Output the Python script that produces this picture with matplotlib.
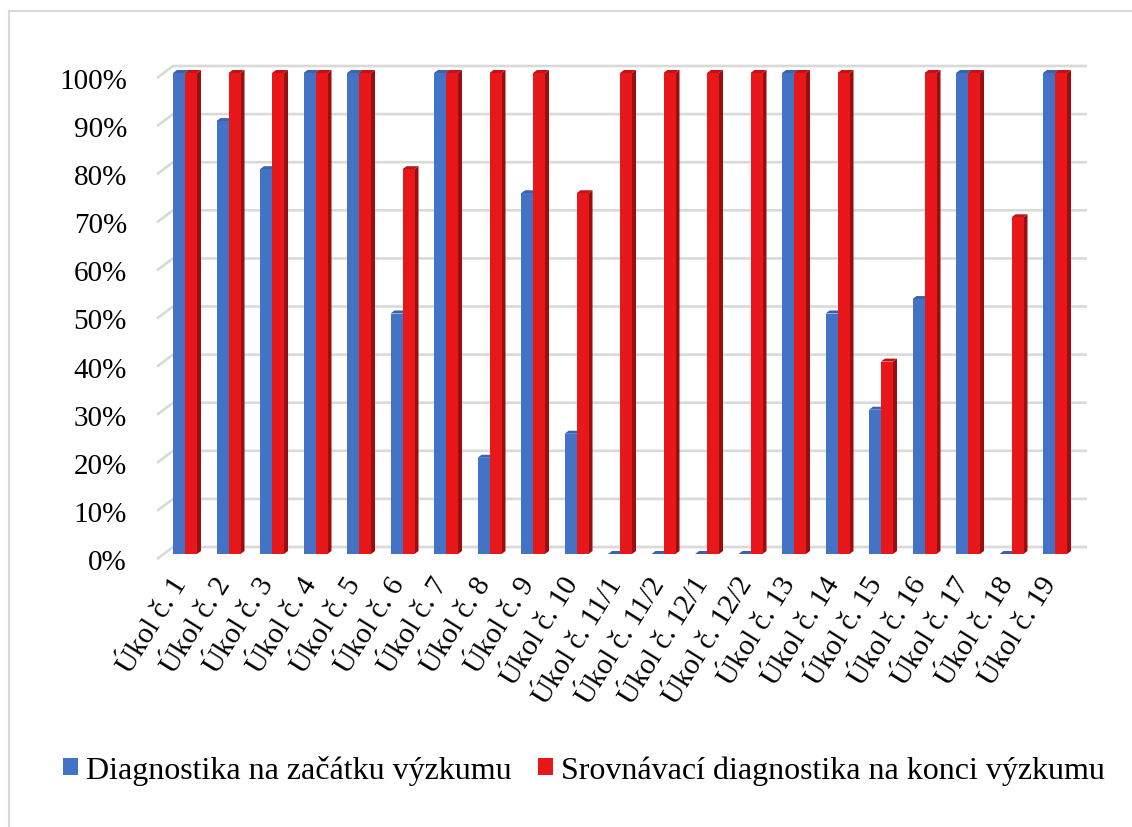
import matplotlib.pyplot as plt
from matplotlib.patches import Polygon, Patch
from matplotlib.lines import Line2D

plt.rcParams['font.family'] = 'serif'
plt.rcParams['font.serif'] = ['Liberation Serif', 'Times New Roman', 'DejaVu Serif']

# úkoly a výsledky diagnostik (v %)
ukoly = ['Úkol č. 1', 'Úkol č. 2', 'Úkol č. 3', 'Úkol č. 4', 'Úkol č. 5',
         'Úkol č. 6', 'Úkol č. 7', 'Úkol č. 8', 'Úkol č. 9', 'Úkol č. 10',
         'Úkol č. 11/1', 'Úkol č. 11/2', 'Úkol č. 12/1', 'Úkol č. 12/2',
         'Úkol č. 13', 'Úkol č. 14', 'Úkol č. 15', 'Úkol č. 16',
         'Úkol č. 17', 'Úkol č. 18', 'Úkol č. 19']
zacatek = [100, 90, 80, 100, 100, 50, 100, 20, 75, 25,
           0, 0, 0, 0, 100, 50, 30, 53, 100, 0, 100]
konec = [100, 100, 100, 100, 100, 80, 100, 100, 100, 75,
         100, 100, 100, 100, 100, 100, 40, 100, 100, 70, 100]
yticks = [0, 10, 20, 30, 40, 50, 60, 70, 80, 90, 100]

nazvy = ['Diagnostika na začátku výzkumu',
         'Srovnávací diagnostika na konci výzkumu']
barvy = ['#4472C4', '#E8171A']
vrch = ['#3A62AE', '#C21214']
bok = ['#2E4F8E', '#9A0E10']

W, H = 1132, 828
fig = plt.figure(figsize=(W / 100, H / 100), dpi=100)

# plocha grafu v pixelech
L, R, B, T = 157, 1087, 555, 74
ax = fig.add_axes([L / W, 1 - B / H, (R - L) / W, (B - T) / H])
x0 = -0.644
step = 43.5
ax.set_xlim(x0, x0 + (R - L) / step)
ax.set_ylim(0, 100)
ax.axis('off')

XPX = step            # px na jednu kategorii
YPX = (B - T) / 100   # px na jedno procento

# zadní stěna - mřížka se šikmým náběhem
for v in yticks:
    xs = [x0, x0 + 16 / XPX, ax.get_xlim()[1]]
    ys = [v - 5 / YPX, v + 7 / YPX, v + 7 / YPX]
    ax.plot(xs, ys, color='#D9D9D9', lw=1.9, solid_capstyle='butt',
            clip_on=False, zorder=1)
    ax.text(x0 - 30 / XPX, v - 8 / YPX, f'{v}%', ha='right', va='center',
            fontsize=21, color='#000000', clip_on=False)

# sloupce s bočnicí a vrchní plochou
w = 12 / XPX
dx, dy = 4 / XPX, 3 / YPX
for s, data in enumerate([zacatek, konec]):
    for i, v in enumerate(data):
        left = i - w if s == 0 else i
        right = left + w
        side = Polygon([(right, 0), (right, v), (right + dx, v + dy),
                        (right + dx, dy)], closed=True,
                       facecolor=bok[s], edgecolor='none', zorder=2 + s * 2,
                       clip_on=False)
        top = Polygon([(left, v), (right, v), (right + dx, v + dy),
                       (left + dx, v + dy)], closed=True,
                      facecolor=vrch[s], edgecolor='none', zorder=2 + s * 2,
                      clip_on=False)
        ax.add_patch(side)
        ax.add_patch(top)
    pos = [i - w / 2 if s == 0 else i + w / 2 for i in range(len(data))]
    ax.bar(pos, data, width=w, color=barvy[s], zorder=3 + s * 2,
           clip_on=False)

# popisky kategorií
for i, lab in enumerate(ukoly):
    ax.text(i - 4 / XPX, -25 / YPX, lab, rotation=58, rotation_mode='anchor',
            ha='right', va='center', fontsize=21, clip_on=False)

# legenda
handles = [Patch(facecolor=barvy[0]), Patch(facecolor=barvy[1])]
fig.legend(handles, nazvy, loc='center', ncol=2,
           bbox_to_anchor=(584 / W, 1 - 771 / H), frameon=False,
           fontsize=23, handlelength=0.45, handleheight=0.45,
           handletextpad=0.25, columnspacing=0.85)

# rámeček
fig.add_artist(Line2D([8.5 / W, 1], [1 - 12 / H, 1 - 12 / H],
                      color='#D9D9D9', lw=1.5, transform=fig.transFigure))
fig.add_artist(Line2D([8.5 / W, 8.5 / W], [0, 1 - 12 / H],
                      color='#D9D9D9', lw=1.5, transform=fig.transFigure))

fig.savefig('out.png', dpi=100)
